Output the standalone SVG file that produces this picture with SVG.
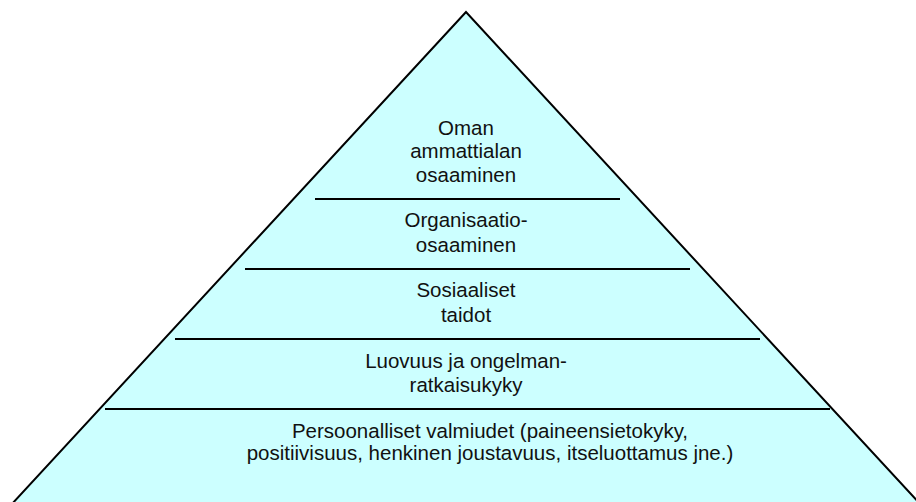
<svg xmlns="http://www.w3.org/2000/svg" width="916" height="502" viewBox="0 0 916 502">
  <style>
    .tier-line { stroke: #000; stroke-width: 2; }
    .label { font-family: "Liberation Sans", Arial, sans-serif; font-size: 20.5px; fill: #111; text-anchor: middle; }
  </style>
  <rect width="916" height="502" fill="#fff"/>
  <g id="pyramid">
    <polygon points="466,12 11,505 921,505" fill="#ccffff" stroke="#000" stroke-width="2"/>
  </g>
  <g id="dividers">
    <line class="tier-line" x1="315" y1="199" x2="620" y2="199"/>
    <line class="tier-line" x1="245" y1="269" x2="690" y2="269"/>
    <line class="tier-line" x1="175" y1="339" x2="760" y2="339"/>
    <line class="tier-line" x1="105" y1="409" x2="830" y2="409"/>
  </g>
  <g id="tier-ammattiala">
    <text class="label" x="466" y="135">Oman</text>
    <text class="label" x="466" y="158">ammattialan</text>
    <text class="label" x="466" y="182">osaaminen</text>
  </g>
  <g id="tier-organisaatio">
    <text class="label" x="466" y="227">Organisaatio-</text>
    <text class="label" x="466" y="252">osaaminen</text>
  </g>
  <g id="tier-sosiaaliset">
    <text class="label" x="466" y="297">Sosiaaliset</text>
    <text class="label" x="466" y="322">taidot</text>
  </g>
  <g id="tier-luovuus">
    <text class="label" x="466" y="368">Luovuus ja ongelman-</text>
    <text class="label" x="466" y="392">ratkaisukyky</text>
  </g>
  <g id="tier-persoonalliset">
    <text class="label" x="490" y="438">Persoonalliset valmiudet (paineensietokyky,</text>
    <text class="label" x="490" y="460">positiivisuus, henkinen joustavuus, itseluottamus jne.)</text>
  </g>
</svg>
